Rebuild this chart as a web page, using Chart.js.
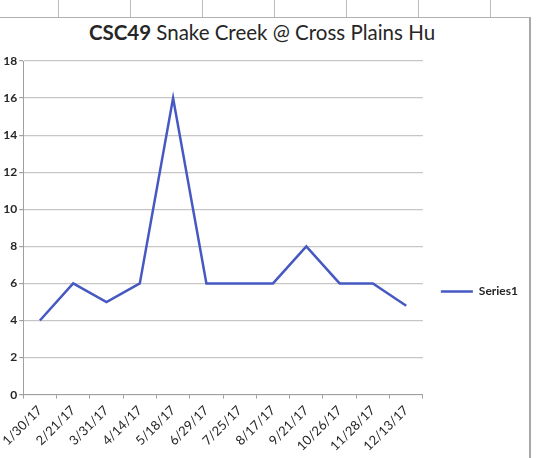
<!DOCTYPE html>
<html>
<head>
<meta charset="utf-8">
<script src="https://cdn.jsdelivr.net/npm/chart.js@4/dist/chart.umd.min.js"></script>
<style>
  html, body { margin: 0; padding: 0; background: #fff; }
  #wrap { position: relative; width: 538px; height: 458px; overflow: hidden; }
  #sheet { position: absolute; left: 0; top: 0; width: 538px; height: 18px;
    background-image: linear-gradient(to right, #bdbdbd 1px, transparent 1px);
    background-size: 72px 18px; background-position: 58px 0; }
  #frame { position: absolute; left: -2px; top: 17px; width: 531px; height: 460px;
    border-top: 1px solid #b0b0b0; border-right: 2px solid #a8a8a8; background: #fff; }
  #title { position: absolute; left: 0; width: 524px; top: 20px; text-align: center;
    font-family: Lato, "Open Sans", sans-serif; font-size: 20.5px; color: #262626; }
  canvas { position: absolute; left: 0; top: 0; }
</style>
</head>
<body>
<div id="wrap">
  <div id="sheet"></div>
  <div id="frame"></div>
  <div id="title"><b>CSC49</b> Snake Creek @ Cross Plains Hu</div>
  <canvas id="c" width="538" height="458"></canvas>
</div>
<script>
const categories = ["1/30/17","2/21/17","3/31/17","4/14/17","5/18/17","6/29/17","7/25/17","8/17/17","9/21/17","10/26/17","11/28/17","12/13/17"];
const series1 = [4, 6, 5, 6, 16, 6, 6, 6, 8, 6, 6, 4.8];
const yTicks = [0, 2, 4, 6, 8, 10, 12, 14, 16, 18];

const shiftLegend = {
  id: 'shiftLegend',
  afterLayout(chart) {
    const lg = chart.legend;
    if (lg) { lg.top += 32; lg.bottom += 32; lg.left += 8; lg.right += 8; }
  }
};

new Chart(document.getElementById('c'), {
  type: 'line',
  data: {
    labels: categories,
    datasets: [{
      label: 'Series1',
      data: series1,
      borderColor: '#4659c2',
      backgroundColor: '#4659c2',
      borderWidth: 2.5,
      pointRadius: 0,
      tension: 0,
      fill: false
    }]
  },
  options: {
    responsive: false,
    animation: false,
    layout: { padding: { top: 61, left: 0, right: 18, bottom: 0 } },
    plugins: {
      title: { display: false },
      tooltip: { enabled: false },
      legend: {
        position: 'right',
        labels: {
          usePointStyle: true,
          pointStyle: 'line',
          pointStyleWidth: 32,
          boxHeight: 10,
          padding: 10,
          color: '#262626',
          font: { family: 'Lato, "Open Sans", sans-serif', size: 12, weight: 'bold' }
        }
      }
    },
    scales: {
      x: {
        type: 'category',
        offset: true,
        grid: {
          offset: true,
          drawOnChartArea: false,
          color: '#a0a0a0',
          tickColor: '#a0a0a0',
          tickLength: 4
        },
        border: { display: true, color: '#a0a0a0', width: 1 },
        ticks: {
          minRotation: 45,
          maxRotation: 45,
          autoSkip: false,
          padding: 4,
          color: '#262626',
          font: { family: 'Lato, "Open Sans", sans-serif', size: 13 }
        }
      },
      y: {
        min: 0,
        max: 18,
        afterBuildTicks(axis) { axis.ticks = yTicks.map(v => ({ value: v })); },
        grid: {
          color: '#c6c6c6',
          tickColor: '#a0a0a0',
          tickLength: 4,
          lineWidth: 1.2
        },
        border: { display: true, color: '#a0a0a0', width: 1 },
        ticks: {
          padding: 2,
          color: '#262626',
          font: { family: 'Lato, "Open Sans", sans-serif', size: 12, weight: 'bold' }
        }
      }
    }
  },
  plugins: [shiftLegend]
});
</script>
</body>
</html>
